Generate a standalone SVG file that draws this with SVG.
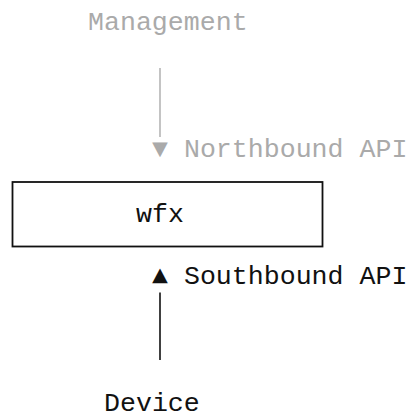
<svg xmlns="http://www.w3.org/2000/svg" width="416" height="416" viewBox="0 0 416 416">
  <style>
    .t { font-family: "Liberation Mono", "DejaVu Sans Mono", monospace; font-size: 26.6px; }
    .gray { fill: #aaaaaa; }
    .dark { fill: #111111; }
    .lg { stroke: #b5b5b5; stroke-width: 1.6; fill: none; }
    .ld { stroke: #111111; stroke-width: 1.6; fill: none; }
  </style>
  <rect width="416" height="416" fill="#ffffff"/>
  <g id="management">
    <text class="t gray" x="88" y="29.5">Management</text>
  </g>
  <g id="wfx">
    <rect x="12.5" y="182" width="310" height="64.5" fill="none" stroke="#111111" stroke-width="1.8"/>
    <text class="t dark" x="136" y="221.5">wfx</text>
  </g>
  <g id="device">
    <text class="t dark" x="104" y="410.5">Device</text>
  </g>
  <g id="connectors">
    <line class="lg" x1="160" y1="68" x2="160" y2="137"/>
    <text class="t gray" x="152" y="157">▼ Northbound API</text>
    <line class="ld" x1="160" y1="292.5" x2="160" y2="360"/>
    <text class="t dark" x="152" y="284">▲ Southbound API</text>
  </g>
</svg>
